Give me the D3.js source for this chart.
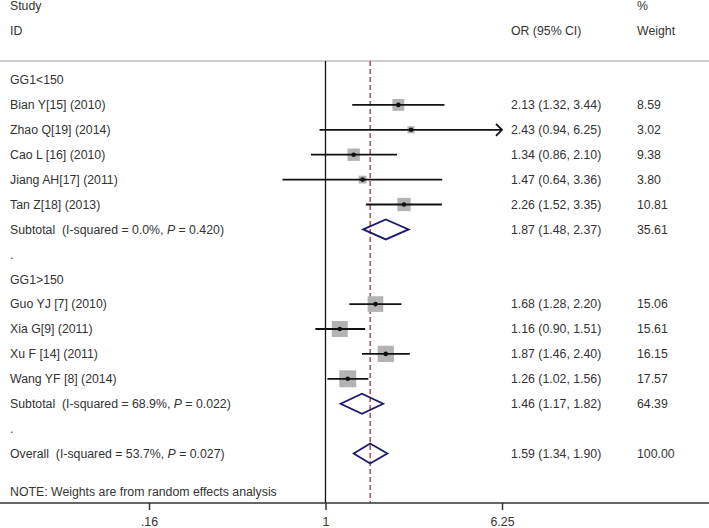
<!DOCTYPE html>
<html><head><meta charset="utf-8">
<script src="https://cdn.jsdelivr.net/npm/d3@7"></script>
<style>body{margin:0;background:#fff}svg{display:block}text{font-family:"Liberation Sans",Arial,sans-serif;font-size:12.3px;fill:#333;white-space:pre}</style>
</head><body><svg id="c" width="709" height="528"></svg>
<script>
// Data
const group1Label = "GG1<150";
const group1Studies = ["Bian Y[15] (2010)", "Zhao Q[19] (2014)", "Cao L [16] (2010)", "Jiang AH[17] (2011)", "Tan Z[18] (2013)"];
const group1OR = [2.13, 2.43, 1.34, 1.47, 2.26];
const group1Lo = [1.32, 0.94, 0.86, 0.64, 1.52];
const group1Hi = [3.44, 6.25, 2.10, 3.36, 3.35];
const group1W = [8.59, 3.02, 9.38, 3.80, 10.81];
const group1Sub = [1.87, 1.48, 2.37, 35.61];
const group1Het = ["0.0%", "0.420"];

const group2Label = "GG1>150";
const group2Studies = ["Guo YJ [7] (2010)", "Xia G[9] (2011)", "Xu F [14] (2011)", "Wang YF [8] (2014)"];
const group2OR = [1.68, 1.16, 1.87, 1.26];
const group2Lo = [1.28, 0.90, 1.46, 1.02];
const group2Hi = [2.20, 1.51, 2.40, 1.56];
const group2W = [15.06, 15.61, 16.15, 17.57];
const group2Sub = [1.46, 1.17, 1.82, 64.39];
const group2Het = ["68.9%", "0.022"];

const overall = [1.59, 1.34, 1.90, 100.00];
const overallHet = ["53.7%", "0.027"];

const tickValues = [0.16, 1, 6.25];
const tickLabels = [".16", "1", "6.25"];

// Build rows
const rows = [];
function addGroup(label, st, or, lo, hi, w, sub, het) {
  rows.push({type: "head", label});
  st.forEach((s, i) => rows.push({type: "study", label: s, or: or[i], lo: lo[i], hi: hi[i], w: w[i]}));
  rows.push({type: "sub", label: "Subtotal", het, or: sub[0], lo: sub[1], hi: sub[2], w: sub[3]});
  rows.push({type: "dot"});
}
addGroup(group1Label, group1Studies, group1OR, group1Lo, group1Hi, group1W, group1Sub, group1Het);
addGroup(group2Label, group2Studies, group2OR, group2Lo, group2Hi, group2W, group2Sub, group2Het);
rows.push({type: "sub", label: "Overall", het: overallHet, or: overall[0], lo: overall[1], hi: overall[2], w: overall[3]});

const svg = d3.select("#c");
const x = d3.scaleLog().domain([0.16, 6.25]).range([149, 502]);
const y = d3.scaleLinear().domain([0, 15]).range([80, 453.5]);
const fmt = d3.format(".2f");
const axisY = 503, topY = 61;

// header
svg.append("text").attr("x", 10).attr("y", 6).attr("dy", "0.35em").text("Study");
svg.append("text").attr("x", 10).attr("y", 31).attr("dy", "0.35em").text("ID");
svg.append("text").attr("x", 511).attr("y", 31).attr("dy", "0.35em").text("OR (95% CI)");
svg.append("text").attr("x", 637).attr("y", 6).attr("dy", "0.35em").text("%");
svg.append("text").attr("x", 637).attr("y", 31).attr("dy", "0.35em").text("Weight");
svg.append("line").attr("x1", 0).attr("x2", 709).attr("y1", topY).attr("y2", topY).attr("stroke", "#bbb").attr("stroke-width", 1.5);

// reference lines
svg.append("line").attr("x1", x(1)).attr("x2", x(1)).attr("y1", topY).attr("y2", axisY).attr("stroke", "#111").attr("stroke-width", 1.3);
svg.append("line").attr("x1", x(overall[0])).attr("x2", x(overall[0])).attr("y1", topY).attr("y2", axisY)
  .attr("stroke", "#a3505e").attr("stroke-width", 1.5).attr("stroke-dasharray", "5,3");

rows.forEach((r, i) => {
  const yy = y(i);
  if (r.type === "head") {
    svg.append("text").attr("x", 10).attr("y", yy).attr("dy", "0.35em").text(r.label);
  } else if (r.type === "dot") {
    svg.append("text").attr("x", 10).attr("y", yy).attr("dy", "0.35em").text(".");
  } else if (r.type === "study") {
    svg.append("text").attr("x", 10).attr("y", yy).attr("dy", "0.35em").text(r.label);
    const s = 4.05 * Math.sqrt(r.w);
    svg.append("rect").attr("x", x(r.or) - s / 2).attr("y", yy - s / 2).attr("width", s).attr("height", s).attr("fill", "#b3b3b3");
    const hiC = Math.min(r.hi, 6.25);
    svg.append("line").attr("x1", x(r.lo)).attr("x2", x(hiC)).attr("y1", yy).attr("y2", yy).attr("stroke", "#111").attr("stroke-width", 1.8);
    if (r.hi >= 6.25) {
      const ax = x(hiC);
      svg.append("path").attr("d", `M${ax - 6},${yy - 6}L${ax},${yy}L${ax - 6},${yy + 6}`).attr("fill", "none").attr("stroke", "#111").attr("stroke-width", 1.8);
    }
    svg.append("circle").attr("cx", x(r.or)).attr("cy", yy).attr("r", 2.3).attr("fill", "#111");
    svg.append("text").attr("x", 511).attr("y", yy).attr("dy", "0.35em").text(`${fmt(r.or)} (${fmt(r.lo)}, ${fmt(r.hi)})`);
    svg.append("text").attr("x", 637).attr("y", yy).attr("dy", "0.35em").text(fmt(r.w));
  } else if (r.type === "sub") {
    const t = svg.append("text").attr("x", 10).attr("y", yy).attr("dy", "0.35em");
    t.append("tspan").text(`${r.label}  (I-squared = ${r.het[0]}, `);
    t.append("tspan").attr("font-style", "italic").text("P");
    t.append("tspan").text(` = ${r.het[1]})`);
    svg.append("path").attr("d", `M${x(r.lo)},${yy}L${x(r.or)},${yy - 10}L${x(r.hi)},${yy}L${x(r.or)},${yy + 10}Z`)
      .attr("fill", "none").attr("stroke", "#1a1a6e").attr("stroke-width", 1.8);
    svg.append("text").attr("x", 511).attr("y", yy).attr("dy", "0.35em").text(`${fmt(r.or)} (${fmt(r.lo)}, ${fmt(r.hi)})`);
    svg.append("text").attr("x", 637).attr("y", yy).attr("dy", "0.35em").text(fmt(r.w));
  }
});

svg.append("text").attr("x", 10).attr("y", 492).attr("dy", "0.35em").text("NOTE: Weights are from random effects analysis");

// axis
svg.append("line").attr("x1", 0).attr("x2", 709).attr("y1", axisY).attr("y2", axisY).attr("stroke", "#333").attr("stroke-width", 1.5);
const ax = svg.append("g").attr("transform", `translate(0,${axisY})`)
  .call(d3.axisBottom(x).tickValues(tickValues).tickFormat((d, i) => tickLabels[i]).tickSize(7).tickPadding(7));
ax.select(".domain").remove();
ax.selectAll(".tick line").attr("stroke", "#333").attr("stroke-width", 1.5);
ax.selectAll(".tick text").attr("font-family", null).attr("font-size", null).style("fill", "#333");
</script></body></html>
